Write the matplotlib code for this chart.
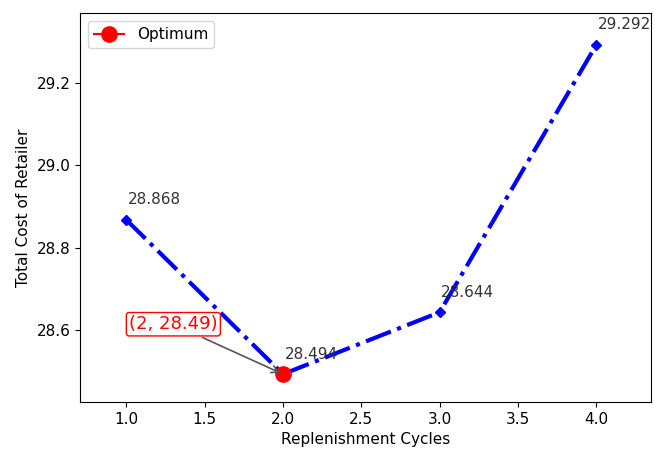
import matplotlib
matplotlib.use("Agg")
import matplotlib.pyplot as plt

cycles = [1, 2, 3, 4]
total_cost = [28.868, 28.494, 28.644, 29.292]
opt_cycle = 2
opt_cost = 28.494

plt.rcParams['font.size'] = 11

fig = plt.figure(figsize=(6.57, 4.54), dpi=100)
ax = fig.add_axes([0.122, 0.115, 0.869, 0.856])

ax.plot(cycles, total_cost, 'b-.', linewidth=3, marker='D', markersize=5)
ax.plot(opt_cycle, opt_cost, 'r-o', markersize=11, label='Optimum')

# value labels above each point
for x, y in zip(cycles, total_cost):
    ax.annotate(f"{y:.3f}", (x, y), xytext=(1, 9), textcoords='offset points',
                ha='left', va='bottom', color='#333333')

ax.annotate(f"({opt_cycle}, {opt_cost:.2f})", (opt_cycle, opt_cost),
            xytext=(1.30, 28.615), textcoords='data',
            ha='center', va='center', color='red', fontsize=13,
            bbox=dict(boxstyle='round,pad=0.15', fc='white', ec='red', lw=1),
            arrowprops=dict(arrowstyle='->', color='#555555', lw=1.2))

ax.set_xlim(0.705, 4.35)
ax.set_ylim(28.427, 29.369)
ax.set_yticks([28.6, 28.8, 29.0, 29.2])
ax.set_xlabel("Replenishment Cycles")
ax.set_ylabel("Total Cost of Retailer")
ax.legend(loc='upper left')

fig.savefig("out.png", dpi=100)
